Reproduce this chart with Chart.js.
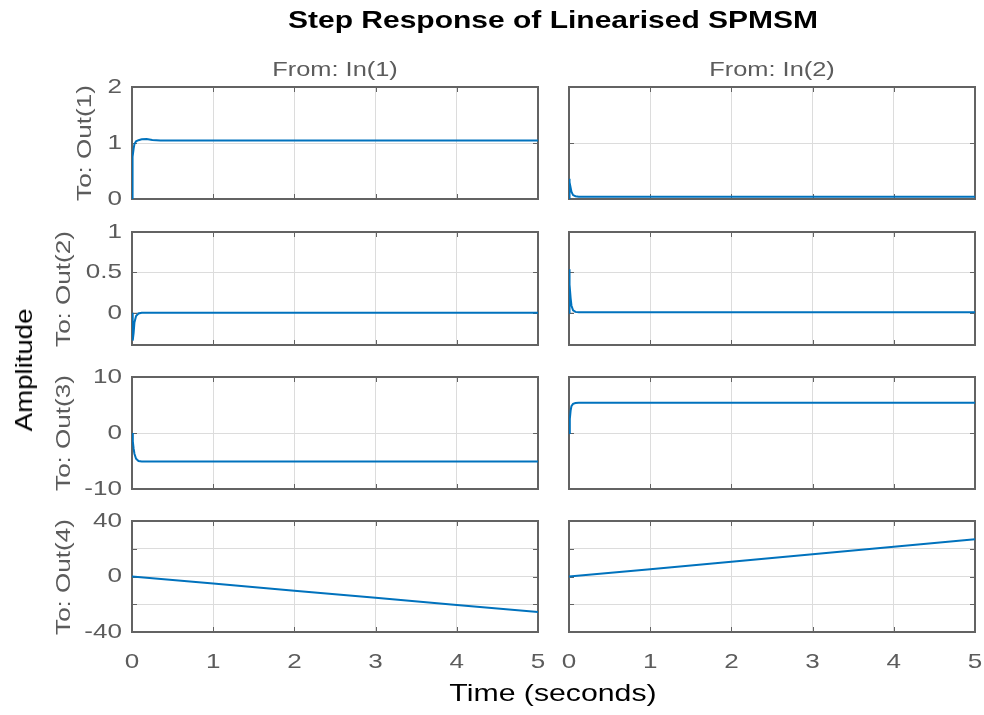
<!DOCTYPE html>
<html>
<head>
<meta charset="utf-8">
<script src="https://cdn.jsdelivr.net/npm/chart.js@4.4.1/dist/chart.umd.min.js"></script>
<style>
  html, body { margin: 0; padding: 0; background: #fff; }
  #fig { position: relative; width: 984px; height: 715px; overflow: hidden;
         font-family: "Liberation Sans", Arial, Helvetica, sans-serif; }
  #fig canvas { position: absolute; left: 0; top: 0; }
  .lbl { position: absolute; white-space: nowrap; line-height: 1; }
</style>
</head>
<body>
<div id="fig"></div>
<script>
// ---- data ----
const figTitle = 'Step Response of Linearised SPMSM';
const inputNames = ['In(1)', 'In(2)'];
const outputNames = ['Out(1)', 'Out(2)', 'Out(3)', 'Out(4)'];
const timeTicks = [0, 1, 2, 3, 4, 5];
const yTicks = [[0, 1, 2], [0, 0.5, 1], [-10, 0, 10], [-40, -20, 0, 20, 40]];
const yTickLabels = [['0', '1', '2'], ['0', '0.5', '1'], ['-10', '0', '10'], ['-40', '', '0', '', '40']];
const yLimits = [[0, 2], [-0.4, 1], [-10, 10], [-40, 40]];

// Out(1)
const t11 = [0, 0.004, 0.01, 0.02, 0.03, 0.05, 0.08, 0.12, 0.18, 0.25, 0.35, 5];
const y11 = [0, 0.55, 0.75, 0.9, 0.98, 1.03, 1.05, 1.065, 1.07, 1.055, 1.045, 1.045];
const t12 = [0, 0.003, 0.01, 0.02, 0.03, 0.05, 0.08, 0.12, 5];
const y12 = [0, 0.36, 0.3, 0.2, 0.13, 0.07, 0.05, 0.042, 0.04];
// Out(2)
const t21 = [0, 0.005, 0.012, 0.02, 0.03, 0.05, 0.08, 0.12, 5];
const y21 = [0, -0.2, -0.345, -0.25, -0.12, -0.04, -0.01, 0, 0];
const t22 = [0, 0.003, 0.01, 0.02, 0.03, 0.05, 0.08, 0.12, 5];
const y22 = [0, 0.54, 0.35, 0.18, 0.09, 0.03, 0.01, 0.005, 0.005];
// Out(3)
const t31 = [0, 0.01, 0.02, 0.03, 0.05, 0.08, 0.12, 5];
const y31 = [0, -1.5, -2.8, -3.7, -4.6, -5.0, -5.1, -5.1];
const t32 = [0, 0.01, 0.02, 0.03, 0.05, 0.08, 0.12, 5];
const y32 = [0, 2.5, 4.0, 4.8, 5.2, 5.35, 5.4, 5.4];
// Out(4)
const t41 = [0, 1, 2, 3, 4, 5];
const y41 = [0, -5.0, -10.2, -15.3, -20.5, -25.6];
const t42 = [0, 1, 2, 3, 4, 5];
const y42 = [0, 5.3, 10.7, 16.1, 21.5, 26.9];

const series = [
  [[t11, y11], [t12, y12]],
  [[t21, y21], [t22, y22]],
  [[t31, y31], [t32, y32]],
  [[t41, y41], [t42, y42]]
];

// ---- layout & style ----
const W = 984, H = 715;
const colX = [[132, 538], [569, 975]];
const rowY = [[87, 199], [232, 345], [377, 489], [521, 632]];
const LINE = '#0072BD', GRID = '#dcdcdc', AXIS = '#636363', TXT = '#5c5c5c';
const FONT = '"Liberation Sans", Arial, Helvetica, sans-serif';
const WIDE = 1.24;          // horizontal stretch of the wide sans face
const WY = 60, HX = 45;

const fig = document.getElementById('fig');

function addLabel(text, x, y, css, rotate, stretch) {
  const d = document.createElement('div');
  d.className = 'lbl';
  d.textContent = text;
  d.style.left = x + 'px';
  d.style.top = y + 'px';
  d.style.transform = 'translate(-50%, -50%)' + (rotate ? ' rotate(-90deg)' : '') + ' scaleX(' + stretch + ')';
  Object.assign(d.style, css);
  fig.appendChild(d);
}

// box with inward tick marks, drawn beneath the response curve
const boxPlugin = {
  id: 'axesBox',
  beforeDatasetsDraw(chart) {
    const { ctx, chartArea: a, scales: { x, y } } = chart;
    ctx.save();
    ctx.strokeStyle = AXIS;
    ctx.lineWidth = 1;
    const tl = 5;
    ctx.beginPath();
    x.ticks.forEach(t => {
      const px = Math.round(x.getPixelForValue(t.value)) + 0.5;
      if (px <= a.left + 1 || px >= a.right - 1) return;
      ctx.moveTo(px, a.top); ctx.lineTo(px, a.top + tl);
      ctx.moveTo(px, a.bottom); ctx.lineTo(px, a.bottom - tl);
    });
    y.ticks.forEach(t => {
      const py = Math.round(y.getPixelForValue(t.value)) + 0.5;
      if (py <= a.top + 1 || py >= a.bottom - 1) return;
      ctx.moveTo(a.left, py); ctx.lineTo(a.left + tl, py);
      ctx.moveTo(a.right, py); ctx.lineTo(a.right - tl, py);
    });
    ctx.stroke();
    ctx.lineWidth = 2;
    ctx.strokeRect(a.left, a.top, a.right - a.left, a.bottom - a.top);
    ctx.restore();
  }
};

// tick labels use the same wide face: stretch each glyph run about its anchor
function wideText(ctx) {
  const base = ctx.fillText.bind(ctx);
  ctx.fillText = function (text, x, y, maxWidth) {
    this.save();
    this.translate(x, y);
    this.scale(WIDE, 1);
    base(text, 0, 0);
    this.restore();
  };
}

function makeChart(row, col) {
  const cv = document.createElement('canvas');
  cv.width = W; cv.height = H;
  fig.appendChild(cv);
  wideText(cv.getContext('2d'));
  const [x0, x1] = colX[col];
  const [y0, y1] = rowY[row];
  const [t, v] = series[row][col];
  new Chart(cv, {
    type: 'line',
    data: {
      datasets: [{
        data: t.map((tt, i) => ({ x: tt, y: v[i] })),
        borderColor: LINE, borderWidth: 2, pointRadius: 0, tension: 0, fill: false
      }]
    },
    options: {
      responsive: false, animation: false, events: [],
      layout: { autoPadding: false, padding: { left: x0 - WY, right: W - x1, top: y0, bottom: H - y1 - HX } },
      plugins: { legend: { display: false }, tooltip: { enabled: false } },
      scales: {
        x: {
          type: 'linear', min: 0, max: 5,
          afterFit(s) { s.height = HX; s.paddingLeft = 0; s.paddingRight = 0; },
          afterBuildTicks(s) { s.ticks = timeTicks.map(val => ({ value: val })); },
          grid: { color: GRID, lineWidth: 1, drawTicks: false },
          border: { display: false },
          ticks: { display: row === 3, padding: 18, color: TXT, maxRotation: 0, autoSkip: false,
                   font: { family: FONT, size: 21 } }
        },
        y: {
          type: 'linear', min: yLimits[row][0], max: yLimits[row][1],
          afterFit(s) { s.width = WY; s.paddingTop = 0; s.paddingBottom = 0; },
          afterBuildTicks(s) { s.ticks = yTicks[row].map(val => ({ value: val })); },
          grid: { color: GRID, lineWidth: 1, drawTicks: false },
          border: { display: false },
          ticks: { display: col === 0, padding: 10, color: TXT, autoSkip: false,
                   callback: (val, i) => yTickLabels[row][i],
                   font: { family: FONT, size: 21 } }
        }
      }
    },
    plugins: [boxPlugin]
  });
}

for (let r = 0; r < 4; r++) for (let c = 0; c < 2; c++) makeChart(r, c);

// ---- text ----
addLabel(figTitle, 553, 20, { fontWeight: 'bold', fontSize: '24px', color: '#000' }, false, 1.25);
inputNames.forEach((n, c) => addLabel('From: ' + n, (colX[c][0] + colX[c][1]) / 2, 68,
  { fontSize: '21px', color: TXT }, false, 1.21));
const outLabelX = [83, 62, 62, 62];
outputNames.forEach((n, r) => addLabel('To: ' + n, outLabelX[r], (rowY[r][0] + rowY[r][1]) / 2,
  { fontSize: '21px', color: TXT }, true, 1.24));
addLabel('Amplitude', 24, 370, { fontSize: '24px', color: '#000' }, true, 1.15);
addLabel('Time (seconds)', 553, 693, { fontSize: '24px', color: '#000' }, false, 1.26);
</script>
</body>
</html>
